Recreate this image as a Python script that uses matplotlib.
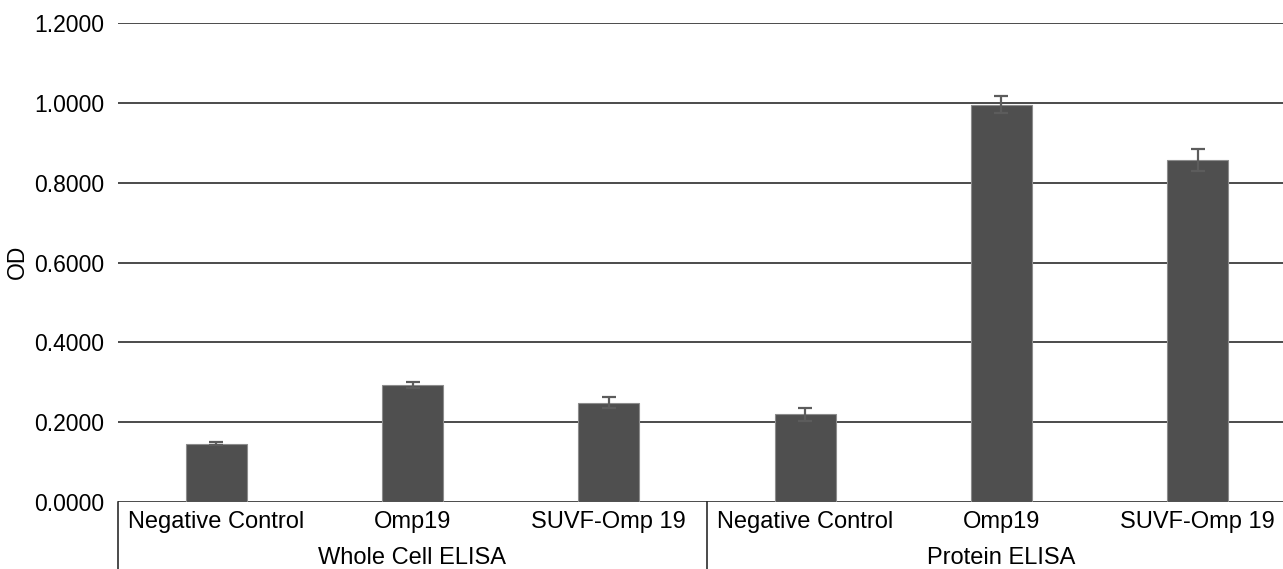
import matplotlib
matplotlib.use("Agg")
import matplotlib.pyplot as plt
import matplotlib.transforms as mtransforms
import numpy as np

plt.rcParams['font.family'] = ['Liberation Sans', 'DejaVu Sans']

groups = ["Whole Cell ELISA", "Protein ELISA"]
categories = ["Negative Control", "Omp19", "SUVF-Omp 19"]
whole_cell_od = [0.146, 0.293, 0.249]
whole_cell_err = [0.004, 0.007, 0.013]
protein_od = [0.220, 0.995, 0.856]
protein_err = [0.016, 0.021, 0.028]
yticks = [0.0, 0.2, 0.4, 0.6, 0.8, 1.0, 1.2]

values = whole_cell_od + protein_od
errors = whole_cell_err + protein_err
labels = categories + categories
x = np.arange(len(values))

W, H = 1283, 569
fig = plt.figure(figsize=(W / 100, H / 100), dpi=100)
left, right, bottom, top = 118, 1296, 502, 23
ax = fig.add_axes([left / W, (H - bottom) / H, (right - left) / W, (bottom - top) / H])

ax.set_ylim(0, 1.2)
ax.set_xlim(-0.5, len(values) - 0.5)
ax.set_yticks(yticks)
ax.set_yticklabels([f"{v:.4f}" for v in yticks], fontsize=16.5)
ax.tick_params(axis='y', length=0, pad=10)
ax.set_xticks([])
for s in ax.spines.values():
    s.set_visible(False)
for v in yticks:
    ax.axhline(v, color='#1a1a1a', lw=1.1, zorder=1)

ax.bar(x, values, width=0.31, color='#4f4f4f', edgecolor='#8c8c8c', linewidth=0.8, zorder=2)
ax.errorbar(x, values, yerr=errors, fmt='none', ecolor='#5c5c5c', elinewidth=1.6,
            capsize=5, capthick=1.6, zorder=3)

fig.text(17 / W, (H - 262) / H, "OD", rotation=90, ha='center', va='center', fontsize=16.5)

# bottom category table
trans = mtransforms.blended_transform_factory(ax.transData, fig.transFigure)
ybase = (H - bottom) / H
for xv in [-0.5, 2.5]:
    ax.plot([xv, xv], [ybase, 0], transform=trans, color='#1a1a1a', lw=1.1, clip_on=False)
for xi, lab in zip(x, labels):
    ax.text(xi, (H - 522) / H, lab, transform=trans, ha='center', va='center', fontsize=17)
for gi, g in enumerate(groups):
    ax.text(gi * 3 + 1, (H - 558) / H, g, transform=trans, ha='center', va='center', fontsize=17)

fig.savefig("out.png", dpi=100)
